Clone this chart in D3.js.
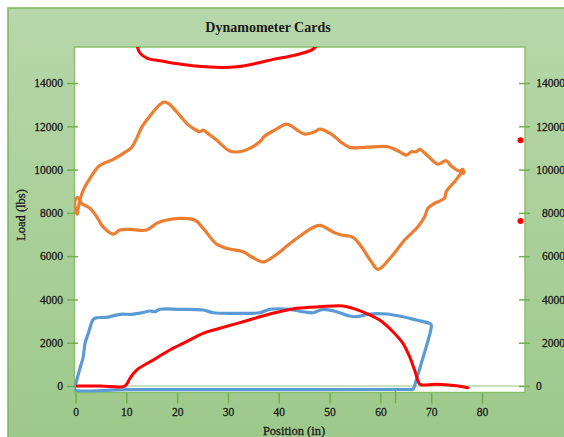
<!DOCTYPE html>
<html>
<head>
<meta charset="utf-8">
<script src="https://cdn.jsdelivr.net/npm/d3@7/dist/d3.min.js"></script>
<style>
  html, body { margin: 0; padding: 0; background: #ffffff; }
  svg { display: block; }
  text { font-family: "Liberation Serif", "DejaVu Serif", serif; fill: #1a1a1a; }
</style>
</head>
<body>
<svg id="chart" width="564" height="437"></svg>
<script>
// ---------- data (Position in, Load lbs) ----------
const xTicks = [0, 10, 20, 30, 40, 50, 60, 70, 80];
const yTicks = [0, 2000, 4000, 6000, 8000, 10000, 12000, 14000];
const extraXTick = [63.0];

const orangeCard = [
  [0.35, 7950], [0.88, 8593], [1.53, 9055], [2.85, 9596], [4.48, 10132], [5.80, 10316],
  [7.43, 10474], [9.40, 10751], [11.05, 11028], [12.03, 11444], [13.01, 11952], [14.64, 12474],
  [16.28, 12936], [17.40, 13121], [18.24, 13061], [19.89, 12673], [21.86, 12137], [23.15, 11905],
  [24.47, 11749], [25.12, 11827], [25.79, 11721], [27.75, 11365], [30.37, 10857], [32.33, 10825],
  [34.30, 10982], [36.26, 11287], [37.25, 11550], [39.2, 11827], [41.5, 12104], [42.5, 12012],
  [43.8, 11795], [45.1, 11642], [47.1, 11749], [48.06, 11873], [50.36, 11642], [52.3, 11259],
  [53.96, 11028], [56.9, 11028], [61.5, 11056], [63.4, 10871], [65.1, 10672], [66.1, 10825],
  [67.07, 10825], [67.7, 10936], [69.35, 10626], [71.3, 10256], [72.96, 10409], [73.95, 10164],
  [75.58, 9933], [76.2, 10012], [76.4, 9827],
  [76.0, 9830], [74.6, 9439], [72.96, 8977], [72.6, 8672], [70.66, 8441], [69.35, 8210],
  [68.7, 7822], [67.38, 7360], [64.77, 6745], [62.15, 5974], [59.52, 5392], [58.22, 5743],
  [56.26, 6436], [54.6, 6870], [52.32, 6976], [51.0, 7082], [48.06, 7424], [46.43, 7286],
  [44.46, 6976], [41.83, 6514], [39.86, 6130], [37.25, 5743], [36.6, 5743], [34.6, 5974],
  [32.98, 6205], [29.72, 6362], [27.75, 6560], [25.12, 7286], [23.49, 7669], [20.54, 7748],
  [17.93, 7669], [15.96, 7517], [14.0, 7207], [10.71, 7240], [8.75, 7207], [7.43, 7022],
  [6.45, 7129], [5.15, 7438], [4.17, 7822], [2.85, 8210], [1.22, 8441], [0.5, 8700],
  [0.05, 8650], [-0.05, 8200], [0.35, 7950]
];

const blueCard = [
  [-0.1, -32], [0.24, 277], [0.88, 818], [1.53, 1354], [1.87, 1973], [2.52, 2435],
  [3.5, 3082], [4.17, 3155], [6.13, 3174], [8.75, 3313], [11.05, 3313], [13.01, 3386],
  [14.64, 3465], [15.63, 3433], [16.6, 3544], [20.54, 3544], [25.12, 3511], [27.09, 3386],
  [31.69, 3359], [36.26, 3386], [38.23, 3544], [42.16, 3544], [44.78, 3433], [46.74, 3386],
  [48.71, 3544], [51.34, 3433], [53.96, 3234], [55.27, 3202], [57.89, 3326], [61.17, 3326],
  [64.43, 3202], [67.07, 3049], [69.68, 2897], [70.01, 2818], [69.03, 1816], [68.05, 1049],
  [67.07, 277], [66.4, -152], [65.75, -160], [34.0, -165], [10.0, -170], [-0.1, -175], [-0.1, -32]
];

const redBottom = [
  [0.35, 0], [5.0, 0], [9.73, 0], [10.71, 356], [12.03, 739], [15.29, 1201], [18.57, 1663],
  [21.86, 2047], [25.12, 2435], [28.4, 2666], [32.98, 2971], [38.23, 3326], [40.19, 3433],
  [43.48, 3590], [48.06, 3664], [52.64, 3696], [54.6, 3590], [57.24, 3359], [59.85, 3049],
  [62.47, 2509], [64.43, 1973], [65.75, 1354], [66.73, 739], [67.72, 92], [68.36, 46],
  [71.0, 79], [74.93, 14], [77.2, -79]
];

const redTop = [
  [12.1, 15900], [12.25, 15600], [12.74, 15370], [14.15, 15140], [16.98, 15015],
  [21.9, 14830], [27.6, 14724], [31.8, 14750], [36.1, 14937], [38.9, 15093],
  [42.4, 15246], [46.7, 15555], [47.6, 15800]
];

const redDots = [[87.57, 11351], [87.57, 7623]];

// ---------- layout ----------
const svg = d3.select("#chart");
const plot = { left: 74.5, right: 525, top: 47, bottom: 392.5 };

const x = d3.scaleLinear().domain([-0.2, 88.46]).range([plot.left, plot.right]);
const y = d3.scaleLinear().domain([-300, 15665]).range([plot.bottom, plot.top]);

// outer green panel
const defs = svg.append("defs");
const grad = defs.append("linearGradient").attr("id", "bg").attr("x1", 0).attr("y1", 0).attr("x2", 0).attr("y2", 1);
grad.append("stop").attr("offset", "0%").attr("stop-color", "#b7d7aa");
grad.append("stop").attr("offset", "100%").attr("stop-color", "#9cc889");
defs.append("clipPath").attr("id", "clip").append("rect")
  .attr("x", plot.left).attr("y", plot.top)
  .attr("width", plot.right - plot.left).attr("height", plot.bottom - plot.top);

svg.append("rect").attr("x", 8).attr("y", 8).attr("width", 600).attr("height", 460)
  .attr("fill", "url(#bg)").attr("stroke", "#7db460").attr("stroke-width", 1.5);

// plot area
svg.append("rect").attr("x", plot.left).attr("y", plot.top)
  .attr("width", plot.right - plot.left).attr("height", plot.bottom - plot.top)
  .attr("fill", "#ffffff").attr("stroke", "#8cc06e").attr("stroke-width", 1.5);

// zero line
svg.append("line").attr("x1", plot.left + 1).attr("x2", plot.right)
  .attr("y1", y(0)).attr("y2", y(0))
  .attr("stroke", "#c9e2bb").attr("stroke-width", 2);

// title
svg.append("text").attr("x", 268).attr("y", 32).attr("text-anchor", "middle")
  .style("font-size", "14px").style("font-weight", "bold").text("Dynamometer Cards");

// axes
const tickColor = "#74af52";
const gL = svg.append("g").attr("transform", `translate(78,0)`)
  .call(d3.axisLeft(y).tickValues(yTicks).tickSize(11).tickPadding(4).tickFormat(d3.format("d")));
const gR = svg.append("g").attr("transform", `translate(519,0)`)
  .call(d3.axisRight(y).tickValues(yTicks).tickSize(11).tickPadding(6).tickFormat(d3.format("d")));
const gB = svg.append("g").attr("transform", `translate(0,${plot.bottom})`)
  .call(d3.axisBottom(x).tickValues(xTicks).tickSize(11).tickPadding(4).tickFormat(d3.format("d")));

[gL, gR, gB].forEach(g => {
  g.select(".domain").remove();
  g.selectAll(".tick line").attr("stroke", tickColor).attr("stroke-width", 1.5);
  g.selectAll(".tick text").style("font-size", "11.5px").attr("fill", "#1a1a1a")
    .attr("stroke", "#1a1a1a").attr("stroke-width", 0.3)
    .style("font-family", '"Liberation Serif", serif');
});
gR.selectAll(".tick text")
  .attr("text-anchor", d => d === 0 ? "start" : "end")
  .attr("x", d => d === 0 ? 17 : 46);

// extra tick on x axis
svg.append("g").selectAll("line").data(extraXTick).join("line")
  .attr("x1", d => x(d)).attr("x2", d => x(d))
  .attr("y1", plot.bottom - 3).attr("y2", plot.bottom + 11)
  .attr("stroke", tickColor).attr("stroke-width", 1.5);

// axis titles
svg.append("text").attr("x", 294).attr("y", 435).attr("text-anchor", "middle")
  .attr("stroke", "#1a1a1a").attr("stroke-width", 0.3)
  .style("font-size", "12.5px").text("Position (in)");
svg.append("text").attr("transform", "translate(25,215) rotate(-90)").attr("text-anchor", "middle")
  .attr("stroke", "#1a1a1a").attr("stroke-width", 0.3)
  .style("font-size", "12.5px").text("Load (lbs)");

// series
const line = d3.line().x(d => x(d[0])).y(d => y(d[1])).curve(d3.curveCatmullRom.alpha(0.5));
const series = svg.append("g").attr("clip-path", "url(#clip)");
series.append("path").datum(orangeCard).attr("d", line)
  .attr("fill", "none").attr("stroke", "#ed7d31").attr("stroke-width", 3.2)
  .attr("stroke-linejoin", "round").attr("stroke-linecap", "round");
series.append("path").datum(blueCard).attr("d", line)
  .attr("fill", "none").attr("stroke", "#5b9bd5").attr("stroke-width", 3.2)
  .attr("stroke-linejoin", "round").attr("stroke-linecap", "round");
series.append("path").datum(redBottom).attr("d", line)
  .attr("fill", "none").attr("stroke", "#ff0000").attr("stroke-width", 3)
  .attr("stroke-linejoin", "round").attr("stroke-linecap", "round");
series.append("path").datum(redTop).attr("d", line)
  .attr("fill", "none").attr("stroke", "#ff0000").attr("stroke-width", 3)
  .attr("stroke-linejoin", "round").attr("stroke-linecap", "round");

svg.append("g").selectAll("circle").data(redDots).join("circle")
  .attr("cx", d => x(d[0])).attr("cy", d => y(d[1])).attr("r", 3)
  .attr("fill", "#ff0000");
</script>
</body>
</html>
